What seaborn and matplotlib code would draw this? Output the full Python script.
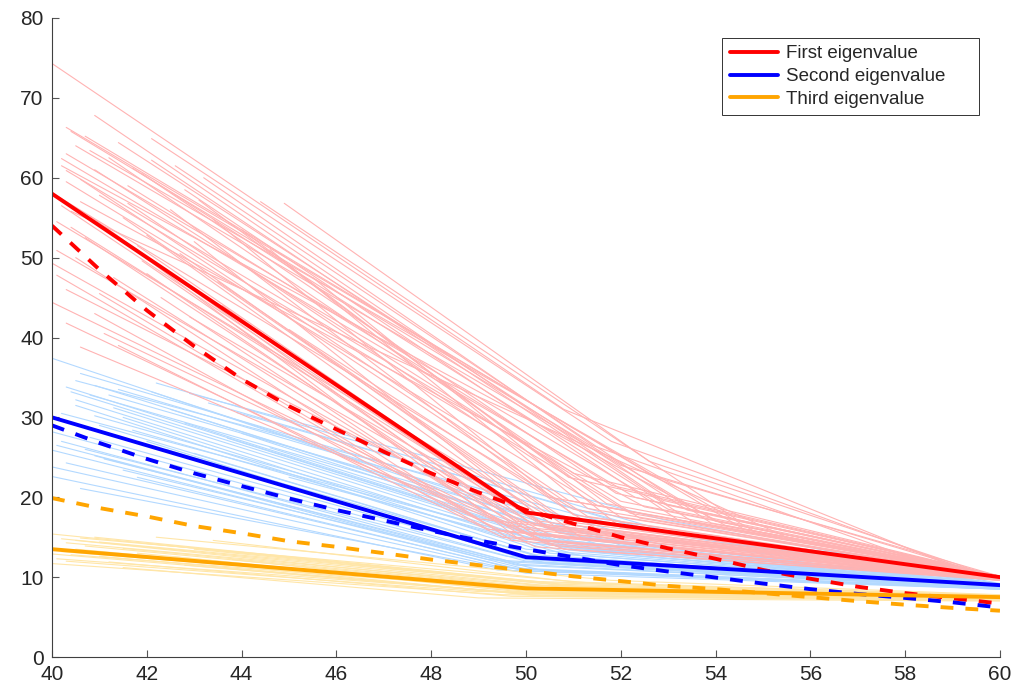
import matplotlib
matplotlib.use("Agg")
import matplotlib.pyplot as plt
import pandas as pd
import seaborn as sns
from matplotlib.lines import Line2D

# thick summary curves
mean_x = [40, 50, 60]
first_mean = [58.0, 18.1, 10.0]
second_mean = [30.0, 12.5, 9.0]
third_mean = [13.5, 8.6, 7.5]

fit_x = list(range(40, 61))
first_fit = [54.0, 48.5, 43.4, 38.9, 34.8, 31.4, 28.5, 25.7, 23.0, 20.6, 18.4,
             16.7, 15.0, 13.6, 12.3, 10.9, 9.8, 8.8, 8.0, 7.35, 6.7]
second_fit = [29.0, 26.8, 24.8, 23.0, 21.4, 19.85, 18.4, 17.1, 15.8, 14.6, 13.5,
              12.5, 11.5, 10.7, 9.95, 9.2, 8.5, 7.9, 7.4, 6.85, 6.2]
third_fit = [19.9, 18.65, 17.6, 16.4, 15.5, 14.5, 13.8, 13.0, 12.2, 11.5, 10.8,
             10.1, 9.5, 8.9, 8.5, 8.0, 7.5, 7.0, 6.55, 6.15, 5.8]

# thin individual runs: (x0, y0, x1, y1, x2, y2)
first_runs = [
    (40.0, 74.3, 50.8, 31.0, 59.4, 10.4), (40.9, 67.8, 52.9, 19.6, 60.0, 10.1),
    (40.3, 66.3, 54.6, 16.0, 60.0, 10.0), (40.4, 65.8, 54.0, 17.0, 60.0, 10.1),
    (42.1, 64.9, 51.8, 27.0, 59.6, 10.3), (40.3, 63.0, 53.0, 18.5, 60.0, 10.0),
    (42.1, 62.2, 53.0, 19.0, 60.0, 10.1), (40.8, 63.4, 54.8, 15.8, 60.0, 10.0),
    (41.7, 61.2, 53.5, 17.0, 60.0, 10.0), (40.3, 60.9, 52.0, 19.5, 60.0, 10.0),
    (40.3, 59.5, 51.5, 19.0, 60.0, 10.0), (44.4, 57.0, 54.5, 17.0, 60.0, 10.1),
    (40.0, 58.1, 51.0, 18.5, 60.0, 10.0), (41.0, 57.8, 52.2, 18.0, 60.0, 10.0),
    (40.1, 54.5, 50.5, 17.5, 60.0, 9.9), (40.4, 53.8, 50.3, 17.0, 60.0, 9.9),
    (40.1, 50.9, 50.2, 16.5, 60.0, 9.8), (40.0, 49.3, 50.0, 16.0, 60.0, 9.8),
    (40.3, 46.0, 50.6, 15.0, 60.0, 9.8), (40.0, 44.4, 50.4, 14.5, 60.0, 9.7),
    (40.6, 38.8, 50.8, 13.5, 60.0, 9.7), (41.1, 40.5, 50.5, 14.0, 60.0, 9.7),
    (41.4, 39.0, 49.5, 15.0, 60.0, 9.7), (42.5, 56.0, 50.5, 20.0, 60.0, 10.0),
    (43.0, 52.0, 50.2, 18.0, 60.0, 9.9), (41.5, 55.0, 50.8, 17.0, 60.0, 9.9),
    (42.0, 48.0, 50.0, 15.5, 60.0, 9.8), (43.5, 47.0, 51.0, 16.5, 60.0, 9.9),
    (41.8, 51.5, 50.5, 16.0, 60.0, 9.8), (40.6, 57.0, 52.5, 18.8, 60.0, 10.0),
    (40.2, 61.5, 54.2, 16.5, 60.0, 10.0), (40.5, 64.0, 52.0, 24.0, 59.8, 10.2),
    (43.2, 60.0, 51.4, 26.5, 59.0, 10.6), (41.2, 62.5, 51.0, 23.0, 60.0, 10.1),
    (44.0, 53.5, 50.9, 22.5, 60.0, 10.1), (42.8, 58.5, 53.2, 17.2, 60.0, 10.0),
    (40.7, 52.5, 49.8, 17.0, 60.0, 9.9), (41.3, 47.5, 49.6, 16.5, 60.0, 9.8),
    (40.9, 43.0, 49.2, 16.0, 60.0, 9.8), (42.3, 45.0, 50.0, 14.8, 60.0, 9.7),
    (45.0, 41.0, 51.5, 16.0, 60.0, 9.9), (40.4, 55.8, 55.5, 15.0, 60.0, 10.0),
    (41.6, 59.0, 51.8, 21.5, 60.0, 10.1), (43.8, 50.0, 52.0, 17.5, 60.0, 9.9),
    (40.2, 56.5, 50.4, 16.2, 60.0, 9.8), (40.8, 55.2, 50.1, 15.6, 60.0, 9.7),
    (41.3, 53.0, 49.8, 15.0, 60.0, 9.7), (42.0, 52.8, 50.6, 16.4, 60.0, 9.8),
    (40.5, 50.0, 49.7, 14.6, 60.0, 9.6), (41.9, 49.6, 50.3, 15.2, 60.0, 9.7),
    (40.1, 47.8, 49.4, 15.8, 60.0, 9.7), (42.7, 50.5, 51.2, 14.8, 60.0, 9.6),
    (43.4, 54.8, 51.0, 17.8, 60.0, 9.9), (40.6, 59.8, 51.3, 17.6, 60.0, 9.9),
    (41.9, 60.5, 51.9, 20.5, 60.0, 10.0), (40.2, 62.4, 52.3, 20.0, 60.0, 10.0),
    (41.4, 64.4, 53.4, 18.4, 60.0, 10.0), (42.6, 61.5, 53.9, 16.8, 60.0, 10.0),
    (40.7, 65.2, 52.7, 22.6, 60.0, 10.1), (43.1, 57.2, 51.7, 19.2, 60.0, 9.9),
    (44.6, 51.0, 51.3, 18.6, 60.0, 9.9), (45.5, 47.5, 52.0, 16.2, 60.0, 9.8),
    (41.0, 45.5, 49.0, 17.3, 60.0, 9.8), (43.6, 44.0, 50.1, 16.8, 60.0, 9.8),
    (40.3, 41.8, 50.2, 13.8, 60.0, 9.6), (42.9, 42.6, 50.7, 15.5, 60.0, 9.7),
    (41.6, 56.8, 50.9, 19.6, 60.0, 9.9), (40.9, 61.0, 52.4, 17.4, 60.0, 9.9),
    (44.9, 56.8, 52.6, 24.5, 59.8, 10.2),
]
second_runs = [
    (40.0, 37.4, 51.5, 14.5, 60.0, 9.0), (40.3, 33.8, 50.5, 14.8, 60.0, 9.0),
    (40.9, 34.0, 51.0, 15.2, 60.0, 9.0), (40.4, 33.2, 50.8, 14.0, 60.0, 8.9),
    (40.5, 32.2, 50.2, 14.2, 60.0, 8.9), (40.5, 31.5, 50.0, 13.5, 60.0, 8.9),
    (40.0, 28.2, 50.0, 12.0, 60.0, 8.8), (40.1, 26.5, 49.8, 11.5, 60.0, 8.7),
    (40.0, 25.9, 50.0, 11.0, 60.0, 8.6), (40.3, 24.3, 50.0, 10.8, 60.0, 8.6),
    (40.0, 23.8, 49.5, 11.2, 60.0, 8.6), (40.6, 21.1, 50.0, 10.5, 60.0, 8.5),
    (42.1, 33.2, 52.0, 14.0, 60.0, 9.0), (41.5, 30.0, 50.5, 13.0, 60.0, 8.9),
    (41.0, 29.0, 50.3, 12.5, 60.0, 8.8), (42.0, 27.0, 50.0, 12.2, 60.0, 8.8),
    (43.0, 25.5, 50.6, 12.0, 60.0, 8.7), (40.2, 30.5, 51.2, 13.2, 60.0, 8.9),
    (40.8, 27.5, 50.4, 11.8, 60.0, 8.7), (41.2, 32.8, 52.5, 13.5, 60.0, 9.0),
    (40.6, 35.5, 53.0, 13.8, 60.0, 9.1), (42.5, 31.0, 51.8, 13.6, 60.0, 8.9),
    (44.0, 28.0, 51.0, 14.5, 60.0, 9.0), (43.5, 24.0, 50.2, 12.8, 60.0, 8.8),
    (41.8, 22.5, 49.8, 11.0, 60.0, 8.5), (45.0, 22.5, 51.4, 12.3, 60.0, 8.7),
    (40.9, 30.2, 50.7, 13.8, 60.0, 8.9), (41.4, 33.5, 51.6, 15.6, 60.0, 9.1),
    (42.8, 29.3, 50.9, 14.2, 60.0, 8.9), (40.7, 26.0, 49.6, 12.6, 60.0, 8.7),
    (43.3, 31.8, 52.2, 16.5, 60.0, 9.1), (41.1, 24.8, 49.9, 11.6, 60.0, 8.6),
    (40.4, 29.4, 50.1, 12.4, 60.0, 8.8), (41.7, 28.4, 50.8, 12.9, 60.0, 8.8),
    (40.2, 27.0, 49.7, 11.9, 60.0, 8.7), (42.4, 26.0, 50.4, 11.7, 60.0, 8.6),
    (40.8, 32.8, 51.3, 14.9, 60.0, 9.0), (43.9, 30.6, 52.7, 15.8, 60.0, 9.1),
    (41.3, 31.2, 50.9, 13.4, 60.0, 8.9), (42.2, 34.3, 53.4, 15.0, 60.0, 9.1),
    (40.0, 22.6, 49.4, 10.9, 60.0, 8.5), (41.5, 23.4, 50.3, 10.9, 60.0, 8.5),
    (44.6, 26.2, 51.7, 13.0, 60.0, 8.8), (40.5, 34.6, 52.1, 16.2, 60.0, 9.1),
    (42.9, 33.0, 52.9, 17.2, 60.0, 9.2), (43.7, 27.4, 51.1, 13.6, 60.0, 8.9),
    (40.9, 25.2, 49.2, 12.2, 60.0, 8.6),
]
third_runs = [
    (40.0, 15.4, 50.0, 9.5, 60.0, 7.7), (40.3, 14.3, 50.2, 9.0, 60.0, 7.6),
    (40.9, 15.0, 50.5, 9.3, 60.0, 7.7), (40.5, 14.6, 49.8, 9.0, 60.0, 7.6),
    (40.7, 13.9, 50.0, 8.7, 60.0, 7.5), (40.2, 13.2, 50.3, 8.4, 60.0, 7.5),
    (40.0, 11.7, 49.5, 7.8, 60.0, 7.2), (40.1, 12.3, 50.0, 8.0, 60.0, 7.3),
    (40.4, 12.8, 50.6, 8.2, 60.0, 7.4), (41.0, 14.4, 51.0, 8.9, 60.0, 7.6),
    (41.5, 13.6, 50.4, 8.6, 60.0, 7.5), (42.0, 14.2, 50.8, 9.1, 60.0, 7.6),
    (42.5, 12.6, 50.0, 8.1, 60.0, 7.3), (43.0, 13.5, 51.2, 8.7, 60.0, 7.5),
    (41.2, 11.9, 49.7, 7.6, 60.0, 7.1), (43.8, 12.2, 50.5, 8.0, 60.0, 7.3),
    (40.6, 14.9, 51.5, 9.2, 60.0, 7.7), (44.5, 11.0, 50.2, 7.7, 60.0, 7.2),
    (40.3, 12.0, 49.0, 8.2, 60.0, 7.3), (42.2, 15.0, 51.8, 9.6, 60.0, 7.8),
    (40.2, 14.8, 50.7, 8.8, 60.0, 7.5), (41.8, 13.0, 49.9, 8.3, 60.0, 7.4),
    (40.5, 13.5, 49.5, 8.6, 60.0, 7.4), (43.4, 14.6, 51.0, 9.4, 60.0, 7.7),
    (40.0, 12.9, 50.1, 7.9, 60.0, 7.3), (42.8, 11.5, 50.5, 7.6, 60.0, 7.1),
    (41.0, 12.6, 49.8, 8.0, 60.0, 7.3), (41.5, 11.2, 49.0, 7.4, 60.0, 7.0),
]

labels = ["First eigenvalue", "Second eigenvalue", "Third eigenvalue"]
dark = {"First eigenvalue": "#ff0000", "Second eigenvalue": "#0000ff", "Third eigenvalue": "#ffa500"}
light = {"First eigenvalue": "#ffb3b3", "Second eigenvalue": "#b3d9ff", "Third eigenvalue": "#ffe6a8"}


def runs_to_frame(runs, name):
    rows = []
    for run_id, (x0, y0, x1, y1, x2, y2) in enumerate(runs):
        for x, y in ((x0, y0), (x1, y1), (x2, y2)):
            rows.append({"group": name, "run": f"{name}-{run_id}", "x": x, "y": y})
    return rows


thin = pd.DataFrame(
    runs_to_frame(second_runs, labels[1])
    + runs_to_frame(first_runs, labels[0])
    + runs_to_frame(third_runs, labels[2])
)

sns.set_style("ticks")
plt.rcParams["font.family"] = ["Liberation Sans", "DejaVu Sans"]

fig = plt.figure(figsize=(10.12, 6.89), dpi=100)
ax = fig.add_axes([0.0514, 0.0464, 0.9367, 0.9275])

for name in [labels[1], labels[0], labels[2]]:
    sub = thin[thin["group"] == name]
    sns.lineplot(data=sub, x="x", y="y", units="run", estimator=None, sort=False,
                 color=light[name], lw=0.8, ax=ax, legend=False)

solid = {labels[0]: first_mean, labels[1]: second_mean, labels[2]: third_mean}
dashed = {labels[0]: first_fit, labels[1]: second_fit, labels[2]: third_fit}
for name in labels:
    sns.lineplot(x=fit_x, y=dashed[name], color=dark[name], lw=2.8, ax=ax,
                 linestyle=(0, (3.3, 3.1)), legend=False)
for name in labels:
    sns.lineplot(x=mean_x, y=solid[name], color=dark[name], lw=2.8, ax=ax, legend=False)

ax.set_xlim(40, 60)
ax.set_ylim(0, 80)
ax.set_xticks(range(40, 61, 2))
ax.set_yticks(range(0, 81, 10))
ax.set_xlabel("")
ax.set_ylabel("")
ax.tick_params(direction="in", length=5, width=0.8, color="#555555",
               labelsize=15, labelcolor="#262626", pad=6)
for side in ["left", "bottom"]:
    ax.spines[side].set_color("#404040")
    ax.spines[side].set_linewidth(0.8)
sns.despine(ax=ax)

# legend box spans the same area as the original (expanded to a fixed width)
handles = [Line2D([0], [0], color=dark[name], lw=2.8) for name in labels]
leg = ax.legend(handles, labels, loc="upper left", bbox_to_anchor=(0.707, 0.0, 0.271, 0.969),
                mode="expand", borderaxespad=0, fontsize=13.5, handlelength=2.6,
                handletextpad=0.4, labelspacing=0.3, borderpad=0.4,
                fancybox=False, framealpha=1)
leg.get_frame().set_edgecolor("#333333")
leg.get_frame().set_linewidth(0.7)

fig.savefig("out.png", dpi=100)
